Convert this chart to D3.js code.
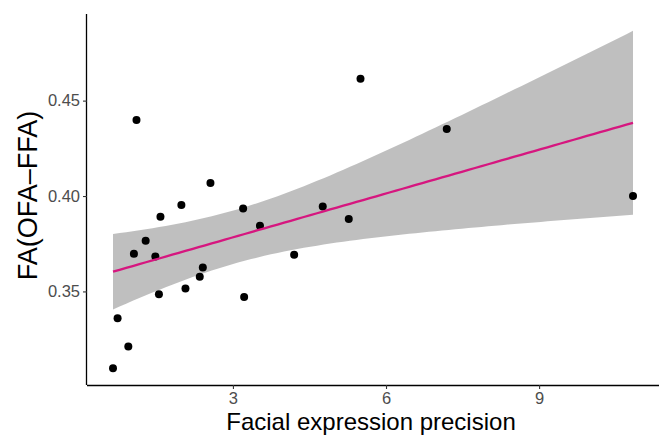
<!DOCTYPE html>
<html>
  <head>
    <meta charset="utf-8">
    <title>FA vs facial expression precision</title>
    <script src="https://d3js.org/d3.v7.min.js"></script>
    <style>
      body { margin: 0; background: #fff; }
      text { font-family: "Liberation Sans", Arial, Helvetica, sans-serif; }
      .tick text { fill: #4d4d4d; }
    </style>
  </head>
  <body>
    <svg width="662" height="436"></svg>
    <script>
      // values
      var precision = [1.11, 2.56, 1.99, 1.58, 1.29, 1.06, 1.48, 2.41, 2.35, 2.07, 1.55, 0.74,
                       0.95, 0.65, 3.20, 4.76, 5.27, 3.53, 4.20, 3.22, 5.50, 7.19, 10.84];
      var fa = [0.4398, 0.4068, 0.3953, 0.3891, 0.3765, 0.3697, 0.3683, 0.3626, 0.3577, 0.3516, 0.3485, 0.3359,
                0.3211, 0.3098, 0.3934, 0.3945, 0.3880, 0.3844, 0.3692, 0.3471, 0.4614, 0.4351, 0.4000];
      var xTicks = [3, 6, 9];
      var yTicks = [0.35, 0.40, 0.45];

      var data = precision.map(function(d, i) { return {x: d, y: fa[i]}; });

      var margin = {top: 14, right: 3, bottom: 51, left: 87},
          width = 662 - margin.left - margin.right,
          height = 436 - margin.top - margin.bottom;

      var svg = d3.select("svg")
        .append("g")
          .attr("transform", "translate(" + margin.left + "," + margin.top + ")");

      // linear fit with 95% confidence band, like geom_smooth(method = "lm")
      var n = data.length,
          mx = d3.mean(data, function(d) { return d.x; }),
          my = d3.mean(data, function(d) { return d.y; }),
          sxx = d3.sum(data, function(d) { return (d.x - mx) * (d.x - mx); }),
          sxy = d3.sum(data, function(d) { return (d.x - mx) * (d.y - my); }),
          b = sxy / sxx,
          a = my - b * mx,
          rss = d3.sum(data, function(d) { var r = d.y - (a + b * d.x); return r * r; }),
          s = Math.sqrt(rss / (n - 2)),
          tq = 2.0796;

      var xr = d3.extent(data, function(d) { return d.x; });
      var band = d3.range(80).map(function(i) {
        var x = xr[0] + (xr[1] - xr[0]) * i / 79,
            fit = a + b * x,
            se = s * Math.sqrt(1 / n + (x - mx) * (x - mx) / sxx);
        return {x: x, fit: fit, lo: fit - tq * se, hi: fit + tq * se};
      });

      var xPad = (xr[1] - xr[0]) * 0.05;
      var yMin = d3.min([d3.min(fa), d3.min(band, function(d) { return d.lo; })]),
          yMax = d3.max([d3.max(fa), d3.max(band, function(d) { return d.hi; })]),
          yPad = (yMax - yMin) * 0.05;

      var x = d3.scaleLinear()
          .domain([xr[0] - xPad, xr[1] + xPad])
          .range([0, width]);

      var y = d3.scaleLinear()
          .domain([yMin - yPad, yMax + yPad])
          .range([height, 0]);

      svg.selectAll(".dot")
          .data(data)
          .enter().append("circle")
          .attr("class", "dot")
          .attr("cx", function(d) { return x(d.x); })
          .attr("cy", function(d) { return y(d.y); })
          .attr("r", 4)
          .attr("fill", "#000");

      svg.append("path")
          .datum(band)
          .attr("fill", "#000")
          .attr("fill-opacity", 0.25)
          .attr("d", d3.area()
            .x(function(d) { return x(d.x); })
            .y0(function(d) { return y(d.lo); })
            .y1(function(d) { return y(d.hi); }));

      svg.append("path")
          .datum(band)
          .attr("fill", "none")
          .attr("stroke", "#d6167f")
          .attr("stroke-width", 2.3)
          .attr("d", d3.line()
            .x(function(d) { return x(d.x); })
            .y(function(d) { return y(d.fit); }));

      var xAxis = svg.append("g")
          .attr("transform", "translate(0," + height + ")")
          .call(d3.axisBottom(x).tickValues(xTicks).tickFormat(d3.format("d")).tickSize(4).tickPadding(3));

      var yAxis = svg.append("g")
          .call(d3.axisLeft(y).tickValues(yTicks).tickFormat(d3.format(".2f")).tickSize(4).tickPadding(3));

      [xAxis, yAxis].forEach(function(g) {
        g.select(".domain").attr("stroke", "#000").attr("stroke-width", 1.3);
        g.selectAll(".tick line").attr("stroke", "#333").attr("stroke-width", 1.1);
        g.selectAll(".tick text").attr("font-size", 16.5);
      });
      xAxis.select(".domain").attr("d", "M0,0.5H" + width);
      yAxis.select(".domain").attr("d", "M-0.5,0V" + height);

      svg.append("text")
          .attr("x", width / 2 - 2)
          .attr("y", height + 45)
          .attr("text-anchor", "middle")
          .attr("font-size", 24)
          .attr("fill", "#000")
          .text("Facial expression precision");

      svg.append("text")
          .attr("transform", "translate(" + (37 - margin.left) + "," + (height / 2 - 4) + ") rotate(-90)")
          .attr("text-anchor", "middle")
          .attr("font-size", 27)
          .attr("fill", "#000")
          .text("FA(OFA–FFA)");
    </script>
  </body>
</html>
